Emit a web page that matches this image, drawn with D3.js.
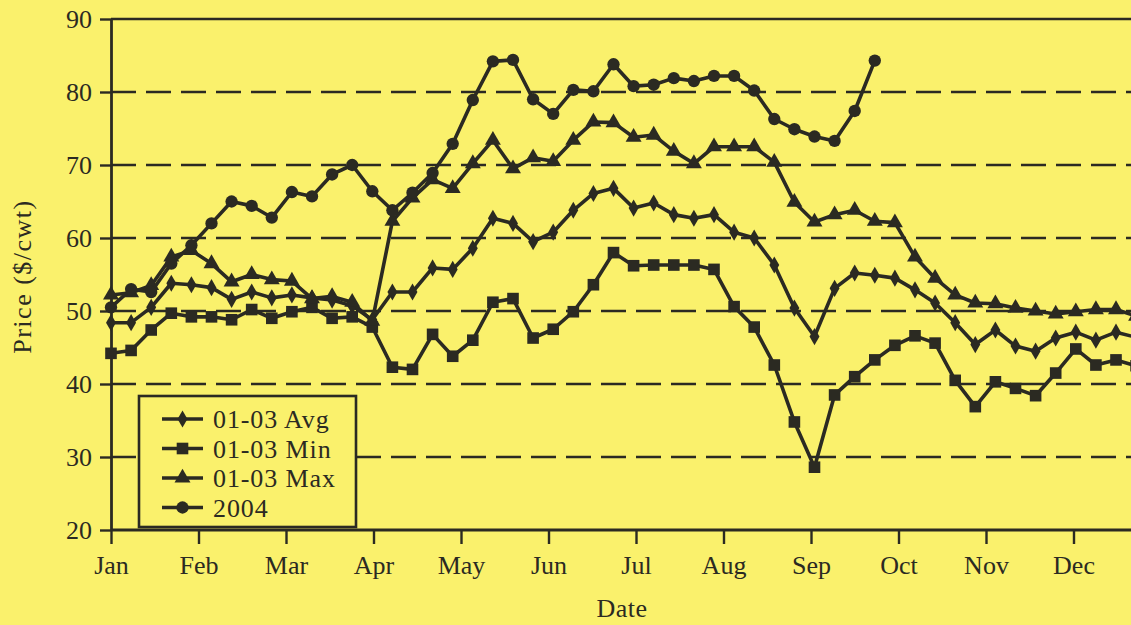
<!DOCTYPE html>
<html>
<head>
<meta charset="utf-8">
<script src="https://cdn.jsdelivr.net/npm/d3@7"></script>
<style>
  body { margin: 0; background: #faf16c; }
  svg { display: block; }
  text { font-family: "Liberation Serif", "Times New Roman", serif; fill: #2b2a22; }
</style>
</head>
<body>
<svg id="chart"></svg>
<script>
// weekly prices ($/cwt), week 0 = first week of January
var months = ["Jan","Feb","Mar","Apr","May","Jun","Jul","Aug","Sep","Oct","Nov","Dec"];
var yTicks = [20,30,40,50,60,70,80,90];

var avg0103 = [48.4,48.4,50.5,53.8,53.6,53.2,51.6,52.6,51.8,52.2,51.8,51.5,50.7,48.8,
               52.6,52.6,55.9,55.7,58.6,62.7,62.0,59.5,60.8,63.8,66.1,66.8,64.1,64.8,
               63.2,62.7,63.2,60.8,60.0,56.3,50.4,46.5,53.1,55.2,54.9,54.5,52.9,51.1,
               48.4,45.4,47.4,45.2,44.5,46.3,47.1,46.0,47.1,46.4];
var min0103 = [44.2,44.6,47.4,49.7,49.2,49.2,48.8,50.2,49.0,49.9,50.5,49.0,49.2,47.8,
               42.3,42.0,46.8,43.8,46.0,51.2,51.7,46.3,47.5,49.9,53.6,58.0,56.2,56.3,
               56.3,56.3,55.7,50.6,47.8,42.6,34.8,28.6,38.5,41.0,43.3,45.3,46.6,45.6,
               40.5,36.9,40.3,39.4,38.4,41.5,44.8,42.6,43.3,42.5];
var max0103 = [52.2,52.5,53.5,57.4,58.3,56.5,54.0,55.0,54.3,54.1,51.7,52.0,51.2,48.6,
               62.3,65.5,68.0,66.8,70.2,73.4,69.5,71.0,70.5,73.4,75.9,75.8,73.8,74.1,
               71.9,70.2,72.5,72.5,72.5,70.4,64.9,62.2,63.2,63.8,62.3,62.1,57.4,54.5,
               52.2,51.1,51.0,50.4,50.0,49.6,49.9,50.2,50.2,49.3];
var y2004 = [50.5,53.0,52.6,56.5,59.0,62.0,65.0,64.4,62.8,66.3,65.7,68.7,70.0,66.4,
             63.8,66.2,68.9,72.9,78.9,84.2,84.4,79.0,77.0,80.3,80.1,83.8,80.8,81.0,
             81.9,81.5,82.2,82.2,80.2,76.3,74.9,73.9,73.3,77.4,84.3];

var series = [
    {name:"01-03 Avg", values:avg0103, symbol:d3.symbolDiamond, size:85},
    {name:"01-03 Min", values:min0103, symbol:d3.symbolSquare, size:135},
    {name:"01-03 Max", values:max0103, symbol:d3.symbolTriangle, size:110},
    {name:"2004",      values:y2004,   symbol:d3.symbolCircle, size:120}
];

var ink = "#2b2a22";
var paper = "#faf16c";
var screen = {width:1131, height:625};
var margins = {left:111, top:19, bottom:95};
var weekPx = 20.1;
var monthPx = 87.5;

var svg = d3.select("#chart")
    .attr("width", screen.width)
    .attr("height", screen.height);

svg.append("rect")
    .attr("width", screen.width)
    .attr("height", screen.height)
    .attr("fill", paper);

var xScale = d3.scaleLinear()
    .domain([0, 52])
    .range([margins.left, margins.left + 52*weekPx]);
var monthScale = d3.scaleLinear()
    .domain([0, 12])
    .range([margins.left, margins.left + 12*monthPx]);
var yScale = d3.scaleLinear()
    .domain([20, 90])
    .range([screen.height - margins.bottom, margins.top]);

// dashed gridlines + solid top line
svg.append("g")
    .selectAll("line")
    .data(yTicks.filter(function(v){ return v > 20; }))
    .enter()
    .append("line")
    .attr("x1", margins.left)
    .attr("x2", screen.width)
    .attr("y1", function(v){ return yScale(v); })
    .attr("y2", function(v){ return yScale(v); })
    .attr("stroke", ink)
    .attr("stroke-width", 2.6)
    .attr("stroke-dasharray", function(v){ return v == 90 ? null : "25,10"; });

// axes
var yAxis = d3.axisLeft(yScale)
    .tickValues(yTicks)
    .tickSize(11)
    .tickSizeOuter(0)
    .tickPadding(8);
var gy = svg.append("g")
    .attr("transform", "translate(" + margins.left + ",0)")
    .call(yAxis);

var xAxis = d3.axisBottom(monthScale)
    .tickValues(d3.range(months.length))
    .tickFormat(function(i){ return months[i]; })
    .tickSize(14)
    .tickSizeOuter(0)
    .tickPadding(12);
var gx = svg.append("g")
    .attr("transform", "translate(0," + yScale(20) + ")")
    .call(xAxis);
gx.select(".domain").attr("d", "M" + margins.left + ",0H" + screen.width);

[gx, gy].forEach(function(g){
    g.select(".domain").attr("stroke", ink).attr("stroke-width", 2.8);
    g.selectAll(".tick line").attr("stroke", ink).attr("stroke-width", 2.4);
    g.selectAll(".tick text")
        .attr("font-size", 26)
        .attr("font-family", "Liberation Serif, serif")
        .attr("fill", ink);
});

// legend box sits over the gridlines
var legend = svg.append("g").attr("transform", "translate(139,396)");
legend.append("rect")
    .attr("width", 217)
    .attr("height", 131)
    .attr("fill", paper)
    .attr("stroke", ink)
    .attr("stroke-width", 2.6);

// series
var line = d3.line()
    .x(function(v, i){ return xScale(i); })
    .y(function(v){ return yScale(v); });

series.forEach(function(s){
    var g = svg.append("g");
    g.append("path")
        .attr("d", line(s.values))
        .attr("fill", "none")
        .attr("stroke", ink)
        .attr("stroke-width", 3.6)
        .attr("stroke-linejoin", "round");
    g.selectAll("path.mark")
        .data(s.values)
        .enter()
        .append("path")
        .attr("class", "mark")
        .attr("d", d3.symbol().type(s.symbol).size(s.size))
        .attr("transform", function(v, i){
            return "translate(" + xScale(i) + "," + yScale(v) + ")";
        })
        .attr("fill", ink);
});

// labels
svg.append("text")
    .text("Price ($/cwt)")
    .attr("text-anchor", "middle")
    .attr("font-size", 26)
    .attr("letter-spacing", 1.5)
    .attr("transform", "translate(31," + (yScale(55) + 2) + ") rotate(-90)");

svg.append("text")
    .text("Date")
    .attr("text-anchor", "middle")
    .attr("font-size", 26)
    .attr("letter-spacing", 0.5)
    .attr("x", 622)
    .attr("y", 617);

// legend rows
var rows = legend.selectAll("g.row")
    .data(series)
    .enter()
    .append("g")
    .attr("class", "row")
    .attr("transform", function(s, i){ return "translate(0," + (23 + i*29.5) + ")"; });
rows.append("line")
    .attr("x1", 23).attr("x2", 64)
    .attr("stroke", ink)
    .attr("stroke-width", 3.6);
rows.append("path")
    .attr("d", function(s){ return d3.symbol().type(s.symbol).size(s.size)(); })
    .attr("transform", "translate(43.5,0)")
    .attr("fill", ink);
rows.append("text")
    .text(function(s){ return s.name; })
    .attr("x", 74)
    .attr("dy", "0.35em")
    .attr("font-size", 26)
    .attr("letter-spacing", 0.9);
</script>
</body>
</html>
